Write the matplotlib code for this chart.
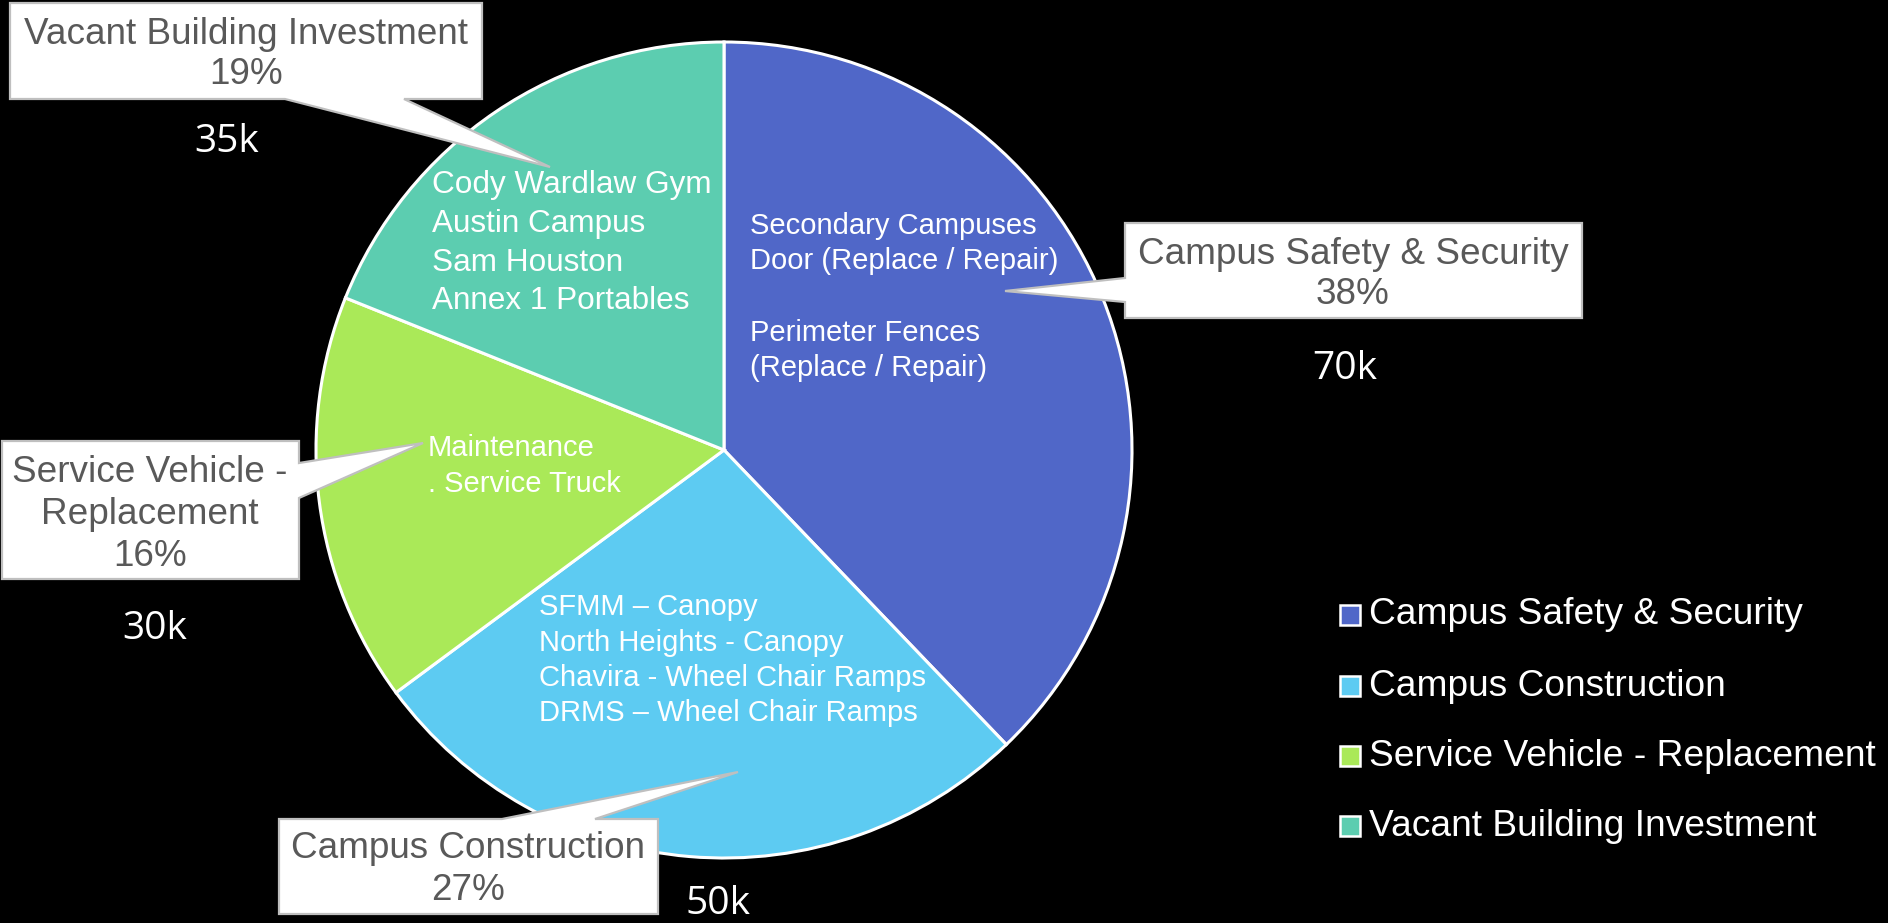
import matplotlib
matplotlib.use("Agg")
import matplotlib.pyplot as plt
from matplotlib.patches import Polygon, Rectangle

# ---------------- data ----------------
categories = ["Campus Safety & Security", "Campus Construction",
              "Service Vehicle - Replacement", "Vacant Building Investment"]
values_k = [70, 50, 30, 35]
colors = ["#5067C8", "#5DCBF2", "#AAE958", "#5CCDB0"]
callout_lines = [["Campus Safety & Security"], ["Campus Construction"],
                 ["Service Vehicle -", "Replacement"], ["Vacant Building Investment"]]
inner_texts = [
    ["Secondary Campuses", "Door (Replace / Repair)", "", "Perimeter Fences", "(Replace / Repair)"],
    ["SFMM \u2013 Canopy", "North Heights - Canopy", "Chavira - Wheel Chair Ramps", "DRMS \u2013 Wheel Chair Ramps"],
    ["Maintenance", ". Service Truck"],
    ["Cody Wardlaw Gym", "Austin Campus", "Sam Houston", "Annex 1 Portables"],
]

# ---------------- layout (pixels) ----------------
W, H = 1888, 923
CX, CY, R = 724, 450, 408
FONT = "Liberation Sans"
GRAY = "#595959"
EDGE = "#BFBFBF"

fig = plt.figure(figsize=(W / 100, H / 100), dpi=100, facecolor="black")

pad = 1.02
ax = fig.add_axes([(CX - R * pad) / W, (H - CY - R * pad) / H, 2 * R * pad / W, 2 * R * pad / H])
ax.set_facecolor("black")
wedges, _ = ax.pie(values_k, colors=colors, startangle=90, counterclock=False, radius=1,
                   wedgeprops=dict(edgecolor="white", linewidth=2.2))
ax.set_xlim(-pad, pad)
ax.set_ylim(-pad, pad)
ax.set_aspect("equal")
ax.axis("off")

ov = fig.add_axes([0, 0, 1, 1])
ov.set_xlim(0, W)
ov.set_ylim(H, 0)
ov.axis("off")
ov.patch.set_alpha(0)

total = sum(values_k)
pcts = [f"{v / total * 100:.0f}%" for v in values_k]

# callout geometry: outline polygon, text centre x, line y's
callouts = [
    dict(poly=[(1125, 223), (1582, 223), (1582, 318), (1125, 318), (1125, 302), (1005, 291), (1125, 278)],
         cx=1353, ys=[254, 295]),
    dict(poly=[(279, 819), (502, 819), (738, 772), (595, 819), (658, 819), (658, 914), (279, 914)],
         cx=468, ys=[849, 890]),
    dict(poly=[(2, 441), (299, 441), (299, 463), (423, 443), (299, 498), (299, 579), (2, 579)],
         cx=150, ys=[472, 515, 557]),
    dict(poly=[(10, 3), (482, 3), (482, 99), (404, 99), (550, 167), (285, 99), (10, 99)],
         cx=246, ys=[34, 74]),
]
value_pos = [(1345, 369), (718, 904), (155, 629), (227, 142)]
inner_pos = [
    dict(x=750, ys=[226, 261, 297, 333, 368], fs=21),
    dict(x=539, ys=[607, 643, 678, 713], fs=21),
    dict(x=428, ys=[448, 484], fs=21),
    dict(x=432, ys=[185, 224, 263, 301], fs=22.7),
]

for i in range(len(categories)):
    c = callouts[i]
    ov.add_patch(Polygon(c["poly"], closed=True, facecolor="white", edgecolor=EDGE,
                         linewidth=1.6, joinstyle="miter", zorder=3))
    lines = callout_lines[i] + [pcts[i]]
    for txt, y in zip(lines, c["ys"]):
        ov.text(c["cx"], y, txt, ha="center", va="center", fontsize=26.6,
                color=GRAY, family=FONT, zorder=4)
    vx, vy = value_pos[i]
    ov.text(vx, vy, f"{values_k[i]}k", ha="center", va="center", fontsize=28,
            color="white", family="Open Sans", zorder=4)
    ip = inner_pos[i]
    for txt, y in zip(inner_texts[i], ip["ys"]):
        if txt:
            ov.text(ip["x"], y, txt, ha="left", va="center", fontsize=ip["fs"],
                    color="white", family=FONT, zorder=2)

# legend
leg_y = [615, 686, 756, 826]
for i, (lab, col) in enumerate(zip(categories, colors)):
    y = leg_y[i]
    ov.add_patch(Rectangle((1340, y - 10), 20, 20, facecolor=col, edgecolor="white",
                           linewidth=1.8, zorder=3))
    ov.text(1369, y, lab, ha="left", va="center", fontsize=26.7, color="white",
            family=FONT, zorder=4)

fig.savefig("out.png", dpi=100, facecolor="black")
